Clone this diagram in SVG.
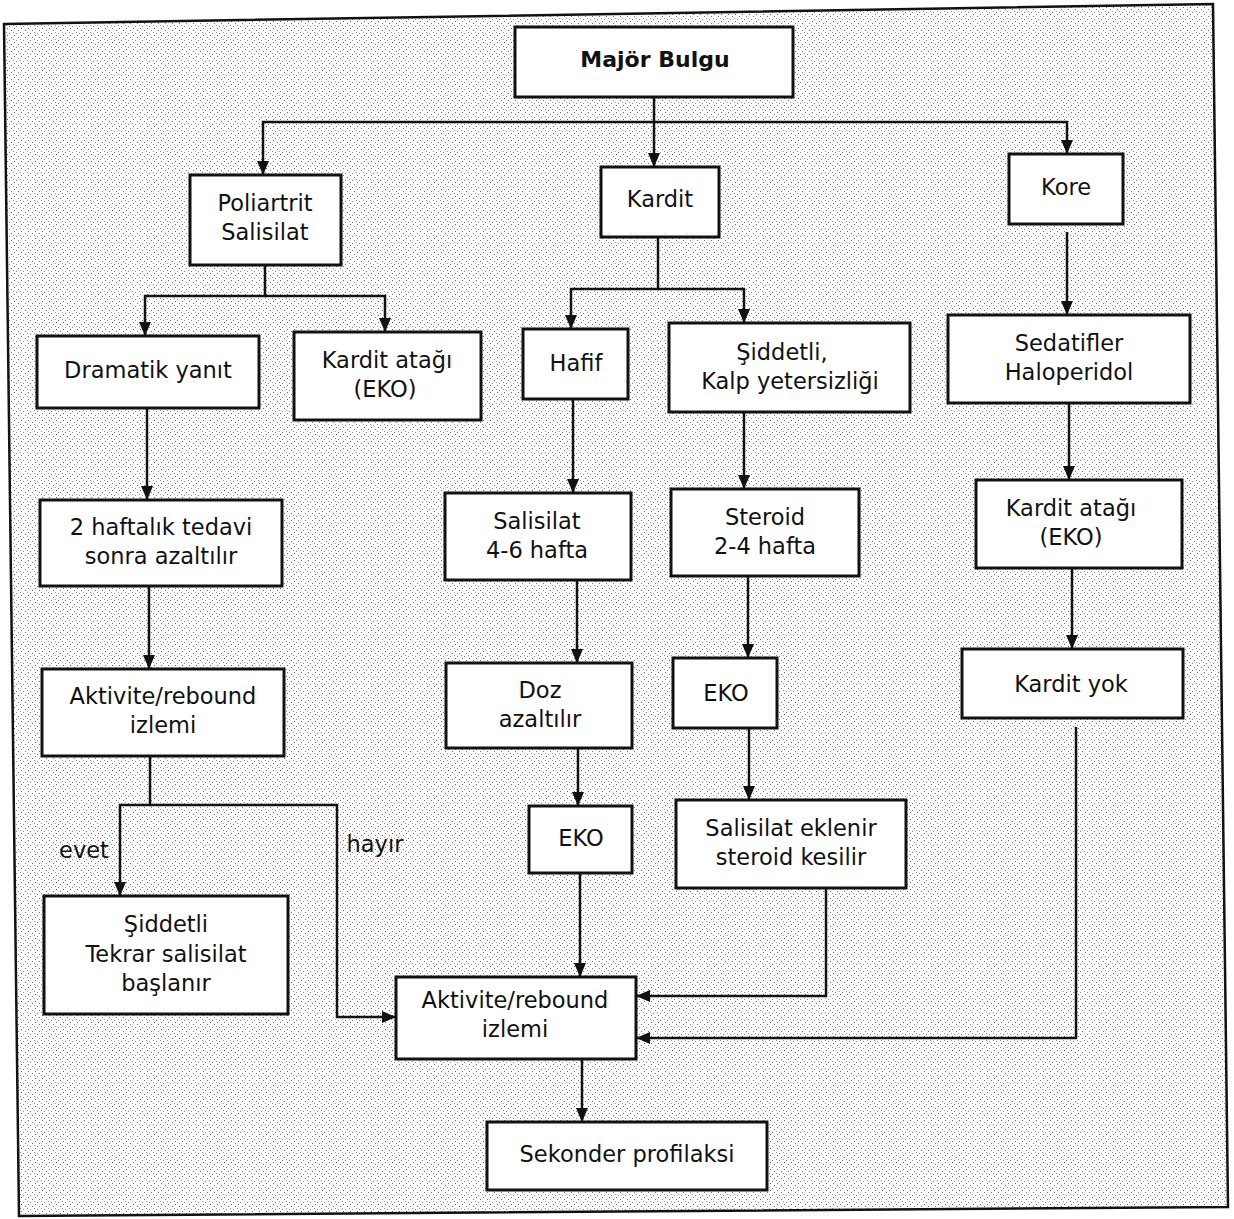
<svg xmlns="http://www.w3.org/2000/svg" width="1234" height="1219" viewBox="0 0 1234 1219">
<style>
.box{fill:#fff;stroke:#111;stroke-width:3}
.t{font-family:"DejaVu Sans",sans-serif;font-size:22.5px;fill:#111;text-anchor:middle}
.b{font-weight:bold;font-size:22px}
.c{fill:none;stroke:#111;stroke-width:2.5}
</style>
<defs>
<pattern id="dots" width="7" height="7" patternUnits="userSpaceOnUse">
<rect width="7" height="7" fill="#fff"/>
<rect x="0" y="0" width="1" height="1" fill="#666"/>
<rect x="4" y="2" width="1" height="1" fill="#777"/>
<rect x="2" y="5" width="1" height="1" fill="#888"/>
<rect x="6" y="4" width="1" height="1" fill="#999"/>
</pattern>
<marker id="ah" viewBox="0 0 14 12" markerWidth="14" markerHeight="12" refX="14" refY="6" orient="auto" markerUnits="userSpaceOnUse">
<path d="M0,0 L14,6 L0,12 z" fill="#111"/>
</marker>
</defs>
<rect width="1234" height="1219" fill="#fff"/>
<polygon points="4,24 1213,4 1228,1207 19,1216" fill="url(#dots)" stroke="#111" stroke-width="2.5"/>

<g id="connectors">
<path class="c" d="M654,97 V167" marker-end="url(#ah)"/>
<path class="c" d="M654,122 H263 V175" marker-end="url(#ah)"/>
<path class="c" d="M654,122 H1067 V154" marker-end="url(#ah)"/>
<path class="c" d="M265,265 V296 H145 V336" marker-end="url(#ah)"/>
<path class="c" d="M265,296 H385 V332" marker-end="url(#ah)"/>
<path class="c" d="M658,237 V289 H571 V329" marker-end="url(#ah)"/>
<path class="c" d="M658,289 H744 V323" marker-end="url(#ah)"/>
<path class="c" d="M1067,232 V315" marker-end="url(#ah)"/>
<path class="c" d="M147,408 V500" marker-end="url(#ah)"/>
<path class="c" d="M149,586 V669" marker-end="url(#ah)"/>
<path class="c" d="M150,756 V805 H120 V896" marker-end="url(#ah)"/>
<path class="c" d="M150,805 H337 V1017 H396" marker-end="url(#ah)"/>
<path class="c" d="M573,399 V493" marker-end="url(#ah)"/>
<path class="c" d="M577,580 V663" marker-end="url(#ah)"/>
<path class="c" d="M578,748 V806" marker-end="url(#ah)"/>
<path class="c" d="M580,873 V977" marker-end="url(#ah)"/>
<path class="c" d="M744,412 V489" marker-end="url(#ah)"/>
<path class="c" d="M748,576 V658" marker-end="url(#ah)"/>
<path class="c" d="M749,728 V800" marker-end="url(#ah)"/>
<path class="c" d="M826,888 V996 H636" marker-end="url(#ah)"/>
<path class="c" d="M1069,403 V480" marker-end="url(#ah)"/>
<path class="c" d="M1072,568 V649" marker-end="url(#ah)"/>
<path class="c" d="M1076,727 V1038 H636" marker-end="url(#ah)"/>
<path class="c" d="M582,1059 V1122" marker-end="url(#ah)"/>
</g>

<g id="majorBulgu"><rect class="box" x="515" y="27" width="278" height="70"/><text class="t b" x="655" y="67">Majör Bulgu</text></g>
<g id="poliartrit"><rect class="box" x="190" y="175" width="151" height="90"/><text class="t" x="265" y="211">Poliartrit</text><text class="t" x="265" y="240">Salisilat</text></g>
<g id="kardit"><rect class="box" x="601" y="167" width="118" height="70"/><text class="t" x="660" y="207">Kardit</text></g>
<g id="kore"><rect class="box" x="1009" y="154" width="114" height="70"/><text class="t" x="1066" y="195">Kore</text></g>
<g id="dramatik"><rect class="box" x="37" y="336" width="222" height="72"/><text class="t" x="148" y="378">Dramatik yanıt</text></g>
<g id="karditAtagi1"><rect class="box" x="294" y="332" width="187" height="88"/><text class="t" x="387" y="368">Kardit atağı</text><text class="t" x="385" y="397">(EKO)</text></g>
<g id="hafif"><rect class="box" x="523" y="329" width="105" height="70"/><text class="t" x="576" y="371">Hafif</text></g>
<g id="siddetli"><rect class="box" x="669" y="323" width="241" height="89"/><text class="t" x="782" y="360">Şiddetli,</text><text class="t" x="790" y="389">Kalp yetersizliği</text></g>
<g id="sedatifler"><rect class="box" x="948" y="315" width="242" height="88"/><text class="t" x="1069" y="351">Sedatifler</text><text class="t" x="1069" y="380">Haloperidol</text></g>
<g id="ikiHaftalik"><rect class="box" x="40" y="500" width="242" height="86"/><text class="t" x="161" y="535">2 haftalık tedavi</text><text class="t" x="161" y="564">sonra azaltılır</text></g>
<g id="aktiviteSol"><rect class="box" x="42" y="669" width="242" height="87"/><text class="t" x="163" y="704">Aktivite/rebound</text><text class="t" x="163" y="733">izlemi</text></g>
<g id="siddetliTekrar"><rect class="box" x="44" y="896" width="244" height="118"/><text class="t" x="166" y="932">Şiddetli</text><text class="t" x="166" y="962">Tekrar salisilat</text><text class="t" x="166" y="991">başlanır</text></g>
<g id="salisilat46"><rect class="box" x="445" y="493" width="186" height="87"/><text class="t" x="537" y="529">Salisilat</text><text class="t" x="537" y="558">4-6 hafta</text></g>
<g id="doz"><rect class="box" x="446" y="663" width="186" height="85"/><text class="t" x="540" y="698">Doz</text><text class="t" x="540" y="727">azaltılır</text></g>
<g id="ekoOrta"><rect class="box" x="529" y="806" width="103" height="67"/><text class="t" x="581" y="846">EKO</text></g>
<g id="steroid"><rect class="box" x="671" y="489" width="188" height="87"/><text class="t" x="765" y="525">Steroid</text><text class="t" x="765" y="554">2-4 hafta</text></g>
<g id="ekoSag"><rect class="box" x="673" y="658" width="104" height="70"/><text class="t" x="726" y="701">EKO</text></g>
<g id="salisilatEklenir"><rect class="box" x="676" y="800" width="230" height="88"/><text class="t" x="791" y="836">Salisilat eklenir</text><text class="t" x="791" y="865">steroid kesilir</text></g>
<g id="karditAtagi2"><rect class="box" x="976" y="480" width="206" height="88"/><text class="t" x="1071" y="516">Kardit atağı</text><text class="t" x="1071" y="545">(EKO)</text></g>
<g id="karditYok"><rect class="box" x="962" y="649" width="221" height="69"/><text class="t" x="1071" y="692">Kardit yok</text></g>
<g id="aktiviteOrta"><rect class="box" x="396" y="977" width="240" height="82"/><text class="t" x="515" y="1008">Aktivite/rebound</text><text class="t" x="515" y="1037">izlemi</text></g>
<g id="sekonder"><rect class="box" x="487" y="1122" width="280" height="68"/><text class="t" x="627" y="1162">Sekonder profilaksi</text></g>

<g id="labels">
<text class="t" x="84" y="858">evet</text>
<text class="t" x="375" y="852">hayır</text>
</g>
</svg>
